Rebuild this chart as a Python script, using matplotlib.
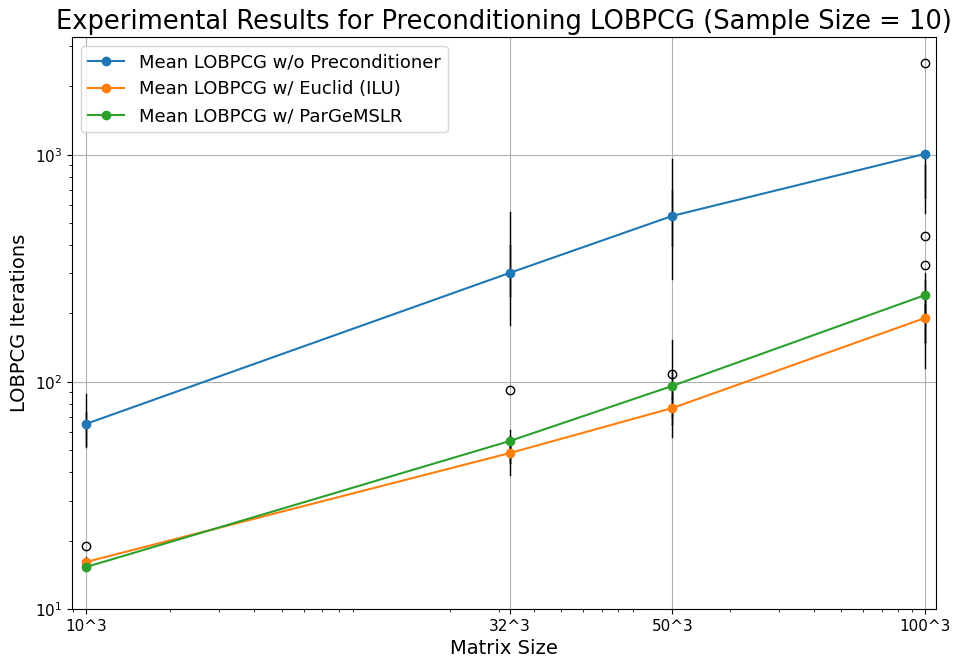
import numpy as np
import matplotlib
matplotlib.use("Agg")
import matplotlib.pyplot as plt

# matrix sizes (n^3) and labels
sizes = [10**3, 32**3, 50**3, 100**3]
size_labels = ["10^3", "32^3", "50^3", "100^3"]

# mean iterations
mean_none = [65.3, 302, 538, 1009]
mean_euclid = [16.1, 48.6, 76.7, 191]
mean_parge = [15.3, 54.9, 96, 241]

# box stats (whislo, q1, med, q3, whishi) per size
box_none = [(51.7, 52.5, 59.6, 73.8, 88.5), (178, 240, 300, 400, 561),
            (284, 400, 520, 700, 959), (555, 650, 750, 900, 1010)]
fliers_none = [[], [], [], [2541]]
box_euclid = [(15.5, 15.8, 16.0, 16.5, 17.0), (38.9, 44, 48, 52, 58),
              (57.3, 65, 75, 85, 90), (115, 150, 185, 220, 250)]
fliers_euclid = [[19.0], [92.2], [108], [327]]
box_parge = [(14.8, 15.0, 15.3, 15.6, 16.0), (45, 50, 54, 58, 61.5),
             (70, 85, 95, 110, 153), (150, 200, 240, 280, 302)]
fliers_parge = [[], [], [], [440]]


def make_stats(boxes, fliers):
    stats = []
    for (lo, q1, med, q3, hi), fl in zip(boxes, fliers):
        stats.append(dict(whislo=lo, q1=q1, med=med, q3=q3, whishi=hi, fliers=fl))
    return stats


fig = plt.figure(figsize=(9.54, 6.59), dpi=100)
ax = fig.add_axes([0.0755, 0.0759, 0.9055, 0.868])

for boxes, fl in [(box_none, fliers_none), (box_euclid, fliers_euclid), (box_parge, fliers_parge)]:
    ax.bxp(make_stats(boxes, fl), positions=sizes, widths=0.5, manage_ticks=False)

ax.plot(sizes, mean_none, 'o-', label='Mean LOBPCG w/o Preconditioner')
ax.plot(sizes, mean_euclid, 'o-', label='Mean LOBPCG w/ Euclid (ILU)')
ax.plot(sizes, mean_parge, 'o-', label='Mean LOBPCG w/ ParGeMSLR')

ax.set_xscale('log')
ax.set_yscale('log')
ax.set_xlim(891, 1.094e6)
ax.set_ylim(10, 3300)
ax.set_xticks(sizes)
ax.set_xticklabels(size_labels)
ax.tick_params(labelsize=11)
ax.grid(True, which='major')

ax.set_title('Experimental Results for Preconditioning LOBPCG (Sample Size = 10)', fontsize=18.5)
ax.set_xlabel('Matrix Size', fontsize=14)
ax.set_ylabel('LOBPCG Iterations', fontsize=14)
ax.legend(loc='upper left', fontsize=13)

fig.savefig('out.png', dpi=100)
